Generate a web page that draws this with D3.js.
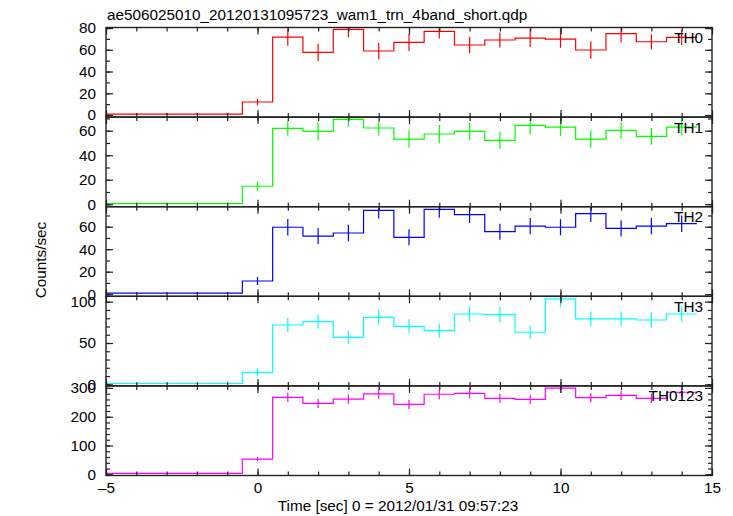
<!DOCTYPE html>
<html>
<head>
<meta charset="utf-8">
<script src="https://cdn.jsdelivr.net/npm/d3@7"></script>
<style>
  body { margin: 0; background: #fff; }
  text { font-family: "Liberation Sans", Arial, Helvetica, sans-serif; }
</style>
</head>
<body>
<svg id="chart" width="733" height="516"></svg>
<script>
// ---- Data ----
const binCenters = [-5,-4,-3,-2,-1,0,1,2,3,4,5,6,7,8,9,10,11,12,13,14];
const panelNames = ["TH0","TH1","TH2","TH3","TH0123"];
const colors = ["#ff0000","#00ff00","#0000ff","#00ffff","#ff00ff"];

const th0      = [0.8,0.8,0.8,0.8,0.8, 12.0, 71.7,57.6,78.8,58.9,66.8,77.0,64.4,69.0,70.8,69.9,59.8,74.8,67.4,71.4];
const th0Err   = [0.5,0.5,0.5,0.5,0.5, 3.0, 8.0,8.0,7.4,7.6,8.0,6.6,7.6,7.0,8.3,8.0,8.0,8.0,7.0,7.0];
const th1      = [0.5,0.5,0.5,0.5,0.5, 14.7, 61.9,59.5,69.3,62.2,53.2,57.3,59.5,52.1,64.3,63.0,53.2,60.3,55.4,63.0];
const th1Err   = [0.5,0.5,0.5,0.5,0.5, 3.8, 6.1,7.3,6.0,6.1,7.2,7.5,7.0,7.0,7.3,7.3,7.2,6.7,6.8,7.0];
const th2      = [1.0,1.0,1.0,1.0,1.0, 11.7, 59.5,51.7,54.4,74.6,50.6,75.5,70.7,55.6,60.6,59.5,71.6,58.6,60.6,62.7];
const th2Err   = [0.5,0.5,0.5,0.5,0.5, 3.5, 7.4,7.1,7.4,7.4,7.1,7.5,7.4,7.1,7.2,7.2,7.5,7.2,7.2,7.3];
const th3      = [1.0,1.0,1.0,1.0,1.0, 14.5, 71.8,75.8,56.9,81.1,70.2,64.9,85.1,84.3,63.0,103.3,79.1,79.1,77.8,85.1];
const th3Err   = [0.6,0.6,0.6,0.6,0.6, 5.0, 8.5,8.7,7.8,9.0,8.5,8.2,9.2,9.2,8.2,10.0,8.9,8.9,8.8,9.2];
const th0123   = [3.0,3.0,3.0,3.0,3.0, 53, 267,246,261,279,243,278,281,264,260,299,266,274,264,285];
const th0123Err= [1.5,1.5,1.5,1.5,1.5, 8, 16,16,16,17,16,17,17,16,16,17,16,16,16,17];

const seriesValues = [th0, th1, th2, th3, th0123];
const seriesErrors = [th0Err, th1Err, th2Err, th3Err, th0123Err];

const yDomains = [[-1.9, 80.5], [-2.0, 71.1], [-1.9, 77.8], [-1.9, 106.5], [-4.2, 307]];
const yMajorTicks = [[0,20,40,60,80],[0,20,40,60],[0,20,40,60],[0,50,100],[0,100,200,300]];
const yMinorStep = [10, 10, 10, 10, 20];

const xDomain = [-5, 15];
const xMajorTicks = [-5, 0, 5, 10, 15];
const xMinorTicks = d3.range(-5, 15.01, 1);

const titleText = "ae506025010_20120131095723_wam1_trn_4band_short.qdp";
const xLabel = "Time [sec] 0 = 2012/01/31 09:57:23";
const yLabel = "Counts/sec";

// ---- Layout ----
const svg = d3.select("#chart");
const pLeft = 106, pRight = 712, pTopAll = 27.5, pBottomAll = 475.5;
const nP = panelNames.length;
const ph = (pBottomAll - pTopAll) / nP;
const fontSize = 15.3;

const x = d3.scaleLinear().domain(xDomain).range([pLeft, pRight]);
const defs = svg.append("defs");

panelNames.forEach((name, i) => {
  const pTop = pTopAll + i * ph, pBot = pTop + ph;
  const y = d3.scaleLinear().domain(yDomains[i]).range([pBot, pTop]);
  const g = svg.append("g");
  const vals = seriesValues[i], errs = seriesErrors[i];

  const cid = "clip" + i;
  defs.append("clipPath").attr("id", cid)
    .append("rect").attr("x", pLeft).attr("y", pTop).attr("width", pRight - pLeft).attr("height", ph);

  const pts = [];
  binCenters.forEach((c, k) => { pts.push([c - 0.5, vals[k]]); pts.push([c + 0.5, vals[k]]); });
  const line = d3.line().x(d => x(d[0])).y(d => y(d[1]));
  const dg = g.append("g").attr("clip-path", `url(#${cid})`);
  dg.append("path").attr("d", line(pts)).attr("fill", "none")
    .attr("stroke", colors[i]).attr("stroke-width", 1.2);
  dg.selectAll("line.err").data(binCenters).enter().append("line")
    .attr("x1", c => x(c)).attr("x2", c => x(c))
    .attr("y1", (c, k) => y(vals[k] - errs[k])).attr("y2", (c, k) => y(vals[k] + errs[k]))
    .attr("stroke", colors[i]).attr("stroke-width", 1.2);

  const minor = d3.range(0, yDomains[i][1], yMinorStep[i]);
  const styleAxis = sel => {
    sel.select(".domain").remove();
    sel.selectAll("line").attr("stroke", "#222").attr("stroke-width", 1.2);
  };
  g.append("g").attr("transform", `translate(${pLeft},0)`)
    .call(d3.axisLeft(y).tickValues(minor).tickSize(-4).tickFormat("")).call(styleAxis);
  g.append("g").attr("transform", `translate(${pRight},0)`)
    .call(d3.axisRight(y).tickValues(minor).tickSize(-4).tickFormat("")).call(styleAxis);
  const la = g.append("g").attr("transform", `translate(${pLeft},0)`)
    .call(d3.axisLeft(y).tickValues(yMajorTicks[i]).tickSize(-7).tickPadding(10).tickFormat(d3.format("d")))
    .call(styleAxis);
  la.selectAll("text").attr("font-size", fontSize).attr("fill", "#000")
    .attr("font-family", '"Liberation Sans", Arial, sans-serif');
  g.append("g").attr("transform", `translate(${pRight},0)`)
    .call(d3.axisRight(y).tickValues(yMajorTicks[i]).tickSize(-7).tickFormat("")).call(styleAxis);

  g.append("g").attr("transform", `translate(0,${pTop})`)
    .call(d3.axisTop(x).tickValues(xMinorTicks).tickSize(-4).tickFormat("")).call(styleAxis);
  g.append("g").attr("transform", `translate(0,${pTop})`)
    .call(d3.axisTop(x).tickValues(xMajorTicks).tickSize(-7).tickFormat("")).call(styleAxis);
  g.append("g").attr("transform", `translate(0,${pBot})`)
    .call(d3.axisBottom(x).tickValues(xMinorTicks).tickSize(-4).tickFormat("")).call(styleAxis);
  const ba = g.append("g").attr("transform", `translate(0,${pBot})`)
    .call(d3.axisBottom(x).tickValues(xMajorTicks).tickSize(-7).tickPadding(6)
      .tickFormat(i === nP - 1 ? (d => d < 0 ? "\u2013" + Math.abs(d) : String(d)) : ""))
    .call(styleAxis);
  ba.selectAll("text").attr("font-size", fontSize).attr("fill", "#000")
    .attr("font-family", '"Liberation Sans", Arial, sans-serif')
    .attr("y", 17.5).attr("dy", null);

  g.append("rect").attr("x", pLeft).attr("y", pTop).attr("width", pRight - pLeft).attr("height", ph)
    .attr("fill", "none").attr("stroke", "#222").attr("stroke-width", 1.4);

  g.append("text").attr("x", 703).attr("y", pTop + 15.5).attr("text-anchor", "end")
    .attr("font-size", fontSize).attr("fill", "#000").text(name);
});

svg.append("text").attr("x", 107).attr("y", 20).attr("font-size", fontSize).attr("fill", "#000").text(titleText);
svg.append("text").attr("x", 398).attr("y", 511).attr("text-anchor", "middle")
  .attr("font-size", fontSize).attr("fill", "#000").text(xLabel);
svg.append("text").attr("transform", "translate(46,260) rotate(-90)").attr("text-anchor", "middle")
  .attr("font-size", fontSize).attr("fill", "#000").text(yLabel);
</script>
</body>
</html>
